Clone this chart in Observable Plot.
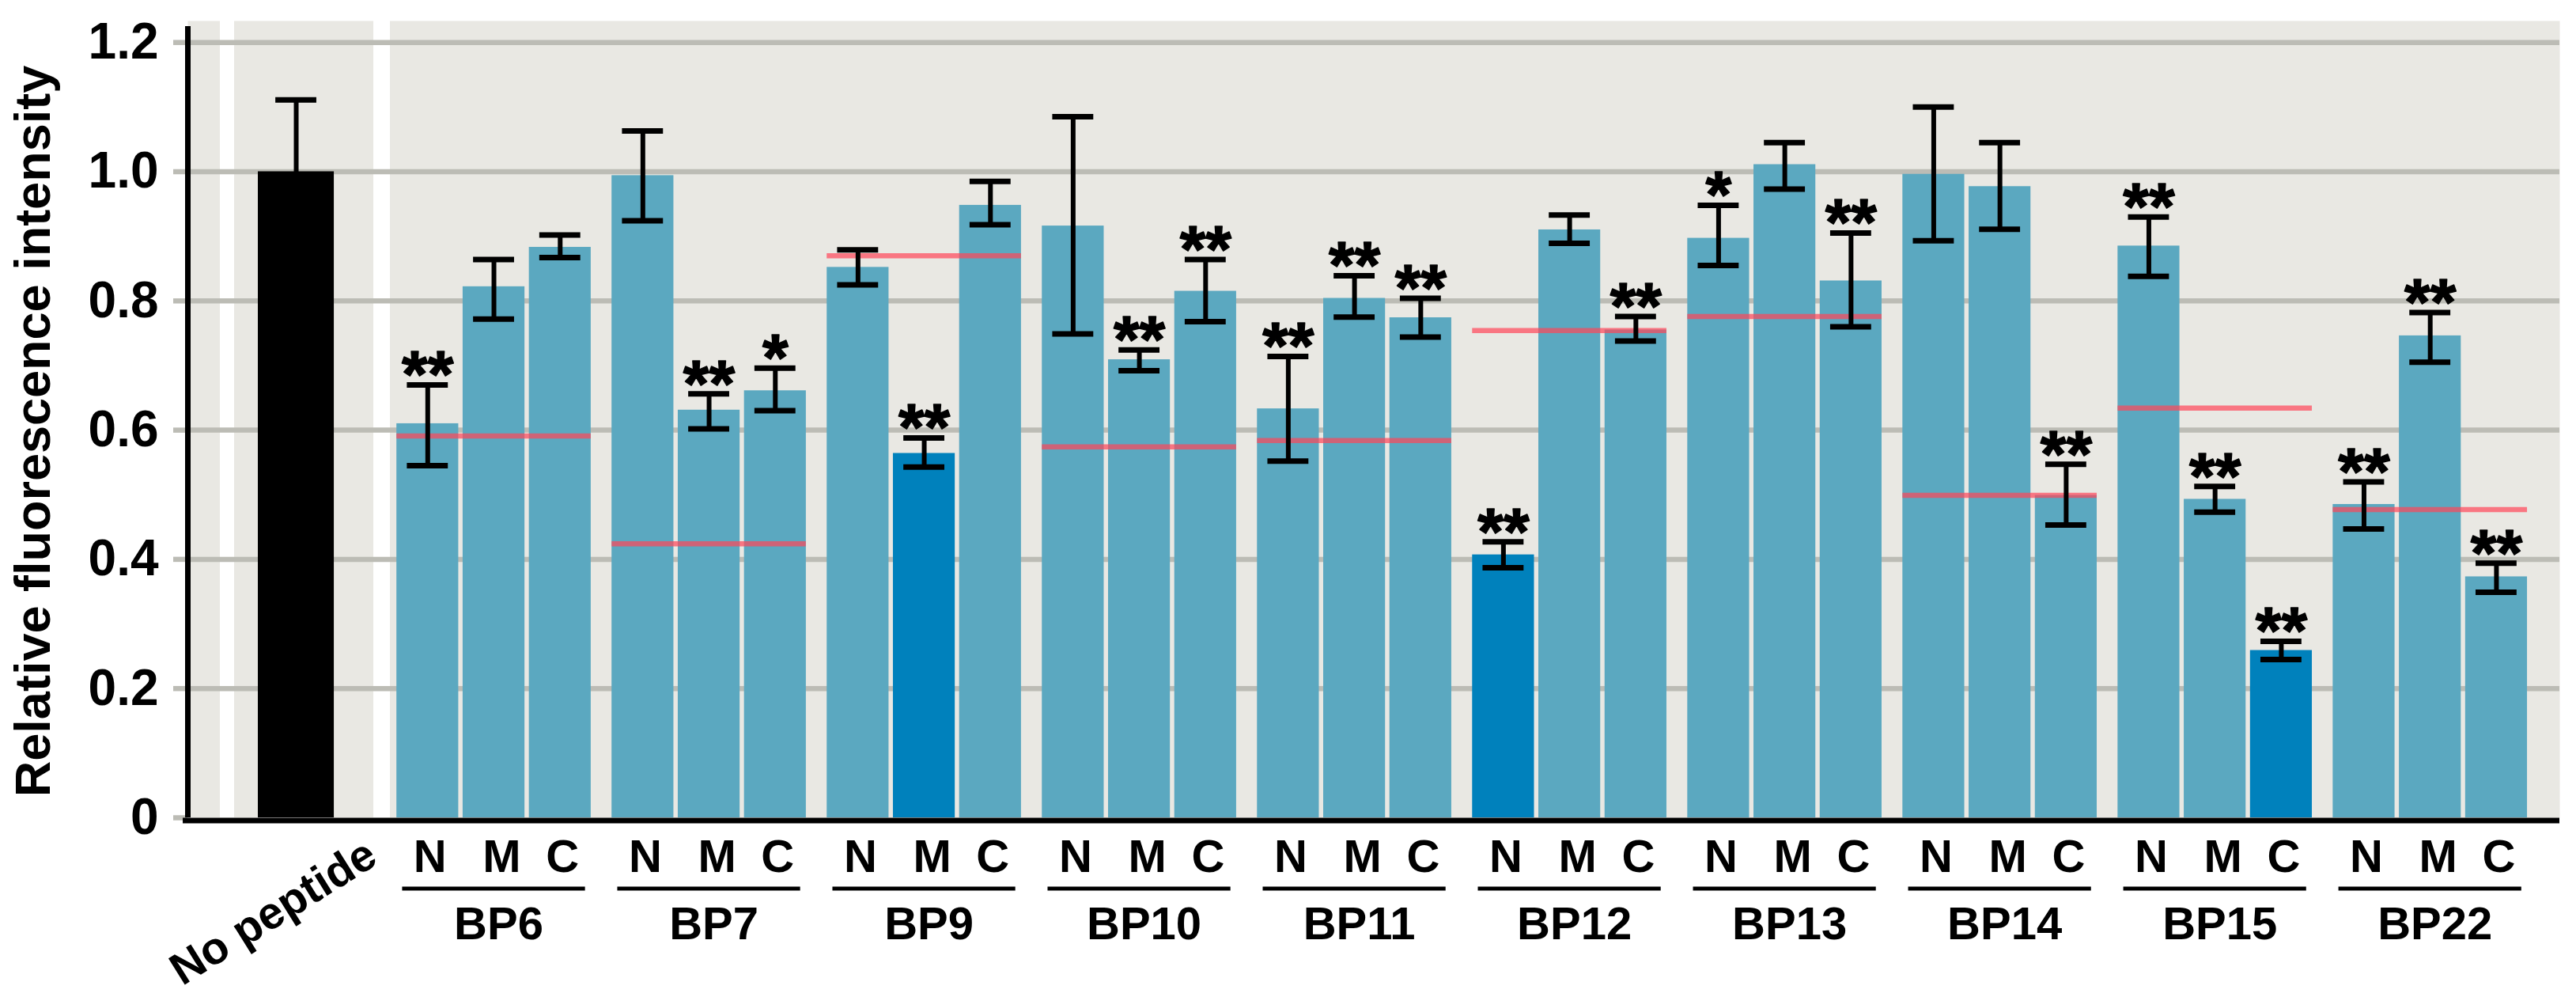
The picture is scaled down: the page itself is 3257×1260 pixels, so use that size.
<!DOCTYPE html>
<html>
<head>
<meta charset="utf-8">
<script src="https://cdn.jsdelivr.net/npm/d3@7"></script>
<script src="https://cdn.jsdelivr.net/npm/@observablehq/plot@0.6"></script>
<style>
  html, body { margin: 0; padding: 0; background: #ffffff; }
  #chart svg { display: block; }
</style>
</head>
<body>
<div id="chart"></div>
<script>
// ---------------- data ----------------
const groups = ["BP6", "BP7", "BP9", "BP10", "BP11", "BP12", "BP13", "BP14", "BP15", "BP22"];
const parts = ["N", "M", "C"];

const means = [
  [0.610, 0.822, 0.883],
  [0.994, 0.631, 0.661],
  [0.852, 0.564, 0.948],
  [0.916, 0.709, 0.815],
  [0.633, 0.804, 0.774],
  [0.407, 0.910, 0.755],
  [0.897, 1.011, 0.831],
  [0.996, 0.977, 0.499],
  [0.885, 0.493, 0.259],
  [0.485, 0.746, 0.373]
];
const errLow = [
  [0.545, 0.772, 0.867],
  [0.924, 0.602, 0.630],
  [0.825, 0.543, 0.918],
  [0.749, 0.692, 0.768],
  [0.552, 0.775, 0.744],
  [0.387, 0.889, 0.738],
  [0.855, 0.973, 0.760],
  [0.893, 0.911, 0.453],
  [0.838, 0.473, 0.245],
  [0.447, 0.705, 0.349]
];
const errHigh = [
  [0.670, 0.864, 0.902],
  [1.063, 0.656, 0.696],
  [0.879, 0.588, 0.985],
  [1.085, 0.724, 0.864],
  [0.714, 0.839, 0.804],
  [0.427, 0.933, 0.776],
  [0.948, 1.045, 0.905],
  [1.100, 1.045, 0.547],
  [0.930, 0.513, 0.273],
  [0.520, 0.782, 0.394]
];
const stars = [
  ["**", "", ""],
  ["", "**", "*"],
  ["", "**", ""],
  ["", "**", "**"],
  ["**", "**", "**"],
  ["**", "", "**"],
  ["*", "", "**"],
  ["", "", "**"],
  ["**", "**", "**"],
  ["**", "**", "**"]
];
// the part drawn in the darker blue in each group ("" = none)
const strongPart = ["", "", "M", "", "", "N", "", "", "C", ""];
// red reference line per group
const expected = [0.591, 0.424, 0.870, 0.574, 0.584, 0.754, 0.776, 0.499, 0.634, 0.477];

const controlLabel = "No peptide";
const controlMean = 1.0;
const controlLow = 0.889;
const controlHigh = 1.111;

const yTicks = [0, 0.2, 0.4, 0.6, 0.8, 1.0, 1.2];
const yTickLabels = ["0", "0.2", "0.4", "0.6", "0.8", "1.0", "1.2"];
const yTitle = "Relative fluorescence intensity";

// ---------------- layout (in x-scale units, 1 unit = one bar slot) ----------------
const X_MAX = 35.28, Y_MAX = 1.2333;
const CTRL_X = 1.612, CTRL_HALF = 0.565;
const G0 = 4.553, G_STEP = 3.2, P_STEP = 0.985;
const BAR_HALF = 0.46, CAP_HALF = 0.305, LINE_HALF = 1.36;
const panelGaps = [[0.482, 0.694], [2.765, 3.012]];
const partLabelDx = [3, 10, 3];

const bars = groups.flatMap((g, gi) => parts.map((p, pi) => ({
  group: g, part: p,
  x: G0 + gi * G_STEP + (pi - 1) * P_STEP,
  half: BAR_HALF,
  value: means[gi][pi], lo: errLow[gi][pi], hi: errHigh[gi][pi],
  star: stars[gi][pi],
  kind: strongPart[gi] === p ? "strong" : "normal"
})));
const control = {group: controlLabel, part: "", x: CTRL_X, half: CTRL_HALF,
  value: controlMean, lo: controlLow, hi: controlHigh, star: "", kind: "control"};
const all = [control, ...bars];
const groupRows = groups.map((g, gi) => ({group: g, x: G0 + gi * G_STEP, expected: expected[gi]}));

const FONT = "'Liberation Sans', Arial, Helvetica, sans-serif";
const zero = () => 0;

const chart = Plot.plot({
  width: 3257,
  height: 1260,
  marginLeft: 237,
  marginRight: 21,
  marginTop: 26,
  marginBottom: 227,
  style: {fontFamily: FONT, background: "#ffffff", color: "#000000", overflow: "visible"},
  x: {domain: [0, X_MAX], axis: null},
  y: {domain: [0, Y_MAX], axis: null},
  color: {domain: ["control", "normal", "strong"], range: ["#000000", "#5ba8c0", "#0081bc"]},
  marks: [
    Plot.frame({fill: "#e9e8e3", stroke: "none"}),
    Plot.rect(panelGaps, {x1: d => d[0], x2: d => d[1], y1: 0, y2: Y_MAX, fill: "#ffffff"}),
    Plot.gridY(yTicks.filter(d => d > 0), {stroke: "#bcbcb5", strokeOpacity: 1, strokeWidth: 6.5}),
    Plot.axisY(yTicks, {
      anchor: "left", tickSize: 18, tickPadding: 19,
      stroke: "#bcbcb5", strokeWidth: 6.5, color: "#000000",
      fontSize: 64, fontWeight: "bold", label: null,
      tickFormat: d => yTickLabels[yTicks.indexOf(d)]
    }),
    Plot.rect(all, {x1: d => d.x - d.half, x2: d => d.x + d.half, y1: 0, y2: "value", fill: "kind"}),
    Plot.ruleY(groupRows, {
      x1: d => d.x - P_STEP - BAR_HALF, x2: d => d.x + P_STEP + BAR_HALF, y: "expected",
      stroke: "rgb(255,70,88)", strokeOpacity: 0.7, strokeWidth: 6.5
    }),
    Plot.ruleX(all, {x: "x", y1: "lo", y2: "hi", stroke: "#000000", strokeWidth: 6}),
    Plot.ruleY(all, {x1: d => d.x - CAP_HALF, x2: d => d.x + CAP_HALF, y: "hi", stroke: "#000000", strokeWidth: 7}),
    Plot.ruleY(all, {x1: d => d.x - CAP_HALF, x2: d => d.x + CAP_HALF, y: "lo", stroke: "#000000", strokeWidth: 7}),
    Plot.text(all.filter(d => d.star), {
      x: "x", y: "hi", text: "star", fontSize: 84, fontWeight: "bold", dy: -11,
      fill: "#000000", stroke: "#000000", strokeWidth: 1.5
    }),
    Plot.ruleX([0], {y1: 0, y2: Y_MAX, stroke: "#000000", strokeWidth: 7, insetBottom: -7}),
    Plot.ruleY([0], {x1: -0.07, x2: X_MAX, stroke: "#000000", strokeWidth: 7, dy: 3.5}),
    ...parts.map((p, pi) => Plot.text(bars.filter(d => d.part === p), {
      x: "x", y: zero, text: "part", lineAnchor: "top", dy: 27, dx: partLabelDx[pi],
      fontSize: 58, fontWeight: "bold", fill: "#000000"
    })),
    Plot.ruleY(groupRows, {
      x1: d => d.x - LINE_HALF, x2: d => d.x + LINE_HALF, y: zero, dy: 89.5,
      stroke: "#000000", strokeWidth: 5
    }),
    Plot.text(groupRows, {
      x: "x", y: zero, text: "group", lineAnchor: "top", dy: 112, dx: 6,
      fontSize: 58, fontWeight: "bold", fill: "#000000"
    }),
    Plot.text([control], {
      x: "x", y: zero, text: "group", rotate: -32, textAnchor: "end",
      dx: 96, dy: 41.5, fontSize: 57, fontWeight: "bold", fill: "#000000"
    }),
    Plot.text([yTitle], {
      frameAnchor: "left", text: d => d, rotate: -90, lineAnchor: "top", textAnchor: "middle",
      dx: -219, dy: 15, fontSize: 63, fontWeight: "bold", fill: "#000000"
    })
  ]
});
document.getElementById("chart").appendChild(chart);
</script>
</body>
</html>
